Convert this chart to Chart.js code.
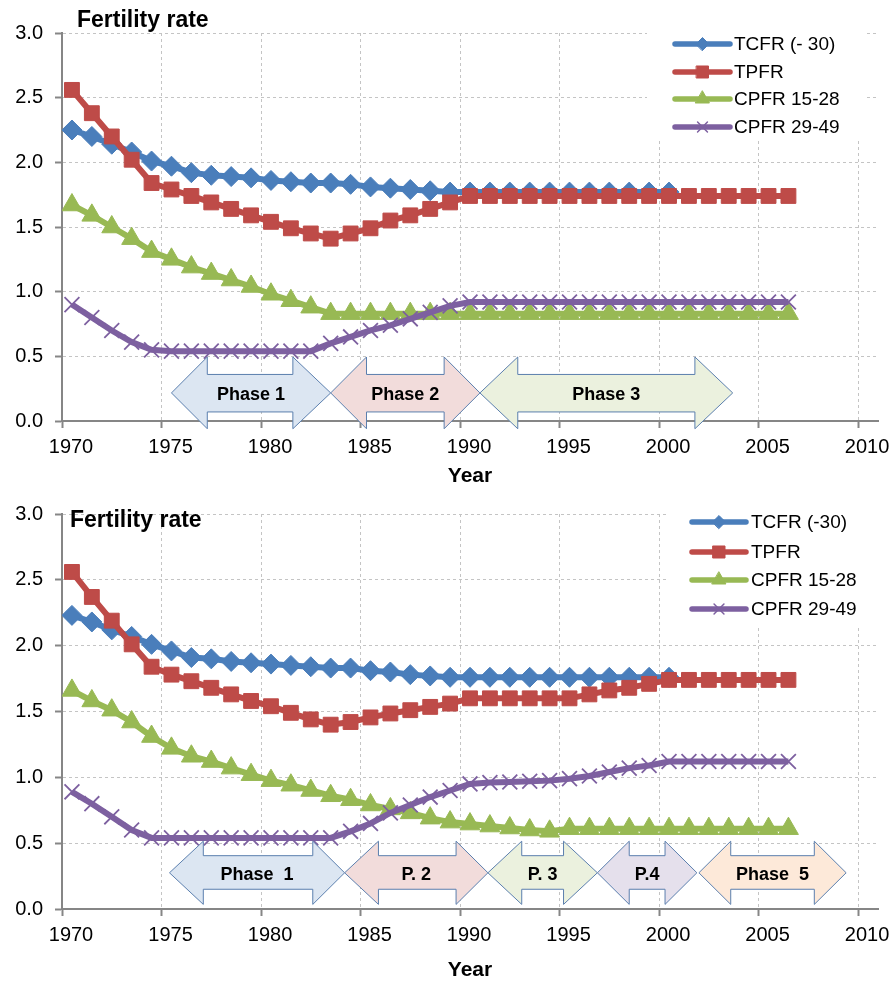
<!DOCTYPE html>
<html>
<head>
<meta charset="utf-8">
<script src="https://cdn.jsdelivr.net/npm/chart.js@4.4.0/dist/chart.umd.min.js"></script>
<style>
    html, body { margin: 0; padding: 0; background: #fff; }
    canvas { position: absolute; left: 0; }
    #top { top: 0; }
    #bottom { top: 490px; }
</style>
</head>
<body>
<canvas id="top" width="895" height="490" style="width:895px;height:490px"></canvas>
<canvas id="bottom" width="895" height="493" style="width:895px;height:493px"></canvas>
<script>
// mid-year points
const years = [1970.5, 1971.5, 1972.5, 1973.5, 1974.5, 1975.5, 1976.5, 1977.5, 1978.5, 1979.5,
    1980.5, 1981.5, 1982.5, 1983.5, 1984.5, 1985.5, 1986.5, 1987.5, 1988.5, 1989.5,
    1990.5, 1991.5, 1992.5, 1993.5, 1994.5, 1995.5, 1996.5, 1997.5, 1998.5, 1999.5,
    2000.5, 2001.5, 2002.5, 2003.5, 2004.5, 2005.5, 2006.5];

// upper panel
const tcfrTop = [2.25, 2.20, 2.14, 2.08, 2.01, 1.97, 1.92, 1.90, 1.89, 1.88,
    1.86, 1.85, 1.84, 1.84, 1.83, 1.81, 1.80, 1.79, 1.78, 1.77,
    1.77, 1.77, 1.77, 1.77, 1.77, 1.77, 1.77, 1.77, 1.77, 1.77, 1.77];
const tpfrTop = [2.56, 2.38, 2.20, 2.02, 1.84, 1.79, 1.74, 1.69, 1.64, 1.59,
    1.54, 1.49, 1.45, 1.41, 1.45, 1.49, 1.55, 1.59, 1.64, 1.69,
    1.74, 1.74, 1.74, 1.74, 1.74, 1.74, 1.74, 1.74, 1.74, 1.74,
    1.74, 1.74, 1.74, 1.74, 1.74, 1.74, 1.74];
const cpfrYoungTop = [1.67, 1.59, 1.50, 1.41, 1.31, 1.25, 1.19, 1.14, 1.09, 1.04,
    0.98, 0.93, 0.88, 0.83, 0.83, 0.83, 0.83, 0.83, 0.83, 0.83,
    0.83, 0.83, 0.83, 0.83, 0.83, 0.83, 0.83, 0.83, 0.83, 0.83,
    0.83, 0.83, 0.83, 0.83, 0.83, 0.83, 0.83];
const cpfrOldTop = [0.90, 0.80, 0.70, 0.61, 0.55, 0.54, 0.54, 0.54, 0.54, 0.54,
    0.54, 0.54, 0.54, 0.60, 0.65, 0.70, 0.74, 0.79, 0.84, 0.89,
    0.92, 0.92, 0.92, 0.92, 0.92, 0.92, 0.92, 0.92, 0.92, 0.92,
    0.92, 0.92, 0.92, 0.92, 0.92, 0.92, 0.92];
const namesTop = ["TCFR (- 30)", "TPFR", "CPFR 15-28", "CPFR 29-49"];
const phasesTop = [
    { label: "Phase 1", from: 1975.5, headL: 1977.3, headR: 1981.6, to: 1983.5, fill: "#dce6f2" },
    { label: "Phase 2", from: 1983.5, headL: 1985.3, headR: 1989.2, to: 1991.0, fill: "#f2dcdb" },
    { label: "Phase 3", from: 1991.0, headL: 1992.9, headR: 2001.8, to: 2003.7, fill: "#ebf1de" },
];

// lower panel
const tcfrBot = [2.23, 2.18, 2.12, 2.07, 2.01, 1.96, 1.91, 1.90, 1.88, 1.87,
    1.86, 1.85, 1.84, 1.83, 1.83, 1.81, 1.80, 1.78, 1.77, 1.76,
    1.76, 1.76, 1.76, 1.76, 1.76, 1.76, 1.76, 1.76, 1.76, 1.76, 1.76];
const tpfrBot = [2.56, 2.37, 2.19, 2.01, 1.84, 1.78, 1.73, 1.68, 1.63, 1.58,
    1.54, 1.49, 1.44, 1.40, 1.42, 1.455, 1.485, 1.51, 1.535, 1.56,
    1.60, 1.60, 1.60, 1.60, 1.60, 1.60, 1.63, 1.66, 1.68, 1.71,
    1.74, 1.74, 1.74, 1.74, 1.74, 1.74, 1.74];
const cpfrYoungBot = [1.66, 1.58, 1.51, 1.42, 1.31, 1.22, 1.16, 1.12, 1.07, 1.02,
    0.975, 0.94, 0.90, 0.86, 0.83, 0.79, 0.76, 0.73, 0.69, 0.66,
    0.645, 0.63, 0.615, 0.60, 0.59, 0.61, 0.61, 0.61, 0.61, 0.61,
    0.61, 0.61, 0.61, 0.61, 0.61, 0.61, 0.61];
const cpfrOldBot = [0.89, 0.80, 0.70, 0.60, 0.54, 0.54, 0.54, 0.54, 0.54, 0.54,
    0.54, 0.54, 0.54, 0.54, 0.59, 0.65, 0.73, 0.79, 0.85, 0.90,
    0.95, 0.96, 0.965, 0.97, 0.975, 0.99, 1.01, 1.04, 1.07, 1.09,
    1.12, 1.12, 1.12, 1.12, 1.12, 1.12, 1.12];
const namesBot = ["TCFR (-30)", "TPFR", "CPFR 15-28", "CPFR 29-49"];
const phasesBot = [
    { label: "Phase  1", from: 1975.4, headL: 1977.1, headR: 1982.6, to: 1984.2, fill: "#dce6f2" },
    { label: "P. 2", from: 1984.2, headL: 1985.9, headR: 1989.8, to: 1991.4, fill: "#f2dcdb" },
    { label: "P. 3", from: 1991.4, headL: 1993.1, headR: 1995.2, to: 1996.9, fill: "#ebf1de" },
    { label: "P.4", from: 1996.9, headL: 1998.5, headR: 2000.3, to: 2001.9, fill: "#e5e0ec" },
    { label: "Phase  5", from: 2002.0, headL: 2003.6, headR: 2007.8, to: 2009.4, fill: "#fde9d9" },
];

const FONT = "'Liberation Sans', Arial, sans-serif";
const styles = [
    { color: "#4a7ebb", point: "rectRot", r: 10, lr: 6.5 },
    { color: "#be4b48", point: "rect", r: 10.5, lr: 8.5 },
    { color: "#98b954", point: "triangle", r: 11.5, lr: 8 },
    { color: "#7d60a0", point: "crossRot", r: 10.5, lr: 7 },
];

function toPoints(vals) {
    return vals.map((v, i) => ({ x: years[i], y: v }));
}

function drawMarker(ctx, s, r, x, y) {
    ctx.save();
    ctx.fillStyle = s.color;
    ctx.strokeStyle = s.color;
    ctx.lineWidth = s.point === "crossRot" ? 1.5 : 1;
    Chart.helpers.drawPoint(ctx, { pointStyle: s.point, radius: r, rotation: 0, borderWidth: ctx.lineWidth }, x, y);
    ctx.restore();
}

function makeOverlay(o) {
    return {
        id: "overlay",
        beforeDatasetsDraw(chart) {
            const ctx = chart.ctx;
            ctx.save();
            ctx.fillStyle = "#fff";
            ctx.fillRect(o.box[0], o.box[1], o.box[2], o.box[3]);
            ctx.restore();
        },
        afterDatasetsDraw(chart) {
            const ctx = chart.ctx;
            const xs = chart.scales.x, ys = chart.scales.y;
            const g = o.arrowY;
            const yHT = ys.getPixelForValue(g[0]), yST = ys.getPixelForValue(g[1]);
            const yM = ys.getPixelForValue(g[2]);
            const ySB = ys.getPixelForValue(g[3]), yHB = ys.getPixelForValue(g[4]);
            o.phases.forEach((p) => {
                const x0 = xs.getPixelForValue(p.from), x1 = xs.getPixelForValue(p.headL);
                const x2 = xs.getPixelForValue(p.headR), x3 = xs.getPixelForValue(p.to);
                ctx.save();
                ctx.beginPath();
                ctx.moveTo(x0, yM);
                ctx.lineTo(x1, yHT);
                ctx.lineTo(x1, yST);
                ctx.lineTo(x2, yST);
                ctx.lineTo(x2, yHT);
                ctx.lineTo(x3, yM);
                ctx.lineTo(x2, yHB);
                ctx.lineTo(x2, ySB);
                ctx.lineTo(x1, ySB);
                ctx.lineTo(x1, yHB);
                ctx.closePath();
                ctx.fillStyle = p.fill;
                ctx.fill();
                ctx.strokeStyle = "#5b7fae";
                ctx.lineWidth = 1;
                ctx.stroke();
                ctx.fillStyle = "#000";
                ctx.font = "bold 18px " + FONT;
                ctx.textAlign = "center";
                ctx.textBaseline = "middle";
                ctx.fillText(p.label, (x0 + x3) / 2, yM + 2);
                ctx.restore();
            });
        },
        afterDraw(chart) {
            const ctx = chart.ctx;
            ctx.save();
            ctx.fillStyle = "#000";
            ctx.font = "bold 23px " + FONT;
            ctx.textAlign = "left";
            ctx.textBaseline = "alphabetic";
            ctx.fillText("Fertility rate", o.title[0], o.title[1]);
            o.names.forEach((name, i) => {
                const s = styles[i];
                const y = o.rows[i];
                ctx.strokeStyle = s.color;
                ctx.lineWidth = 5.5;
                ctx.lineCap = "round";
                ctx.beginPath();
                ctx.moveTo(o.line[0], y);
                ctx.lineTo(o.line[1], y);
                ctx.stroke();
                drawMarker(ctx, s, s.lr, (o.line[0] + o.line[1]) / 2, y);
                ctx.fillStyle = "#000";
                ctx.font = "19px " + FONT;
                ctx.textBaseline = "middle";
                ctx.fillText(name, o.textX, y + 1);
            });
            ctx.restore();
        },
    };
}

function buildChart(id, series, o) {
    const datasets = series.map((vals, i) => {
        const s = styles[i];
        return {
            label: o.names[i],
            data: toPoints(vals),
            borderColor: s.color,
            backgroundColor: s.color,
            borderWidth: 6,
            pointStyle: s.point,
            pointRadius: s.r,
            pointBackgroundColor: s.color,
            pointBorderColor: s.color,
            pointBorderWidth: s.point === "crossRot" ? 1.8 : 1,
            tension: 0,
            order: 4 - i,
        };
    });
    return new Chart(document.getElementById(id), {
        type: "line",
        data: { datasets: datasets },
        options: {
            responsive: false,
            animation: false,
            layout: { padding: { left: 0, right: 17, top: o.padTop, bottom: 0 } },
            plugins: { legend: { display: false }, tooltip: { enabled: false } },
            scales: {
                x: {
                    type: "linear",
                    min: 1970,
                    max: 2011,
                    afterBuildTicks: (s) => {
                        s.ticks = [1970, 1975, 1980, 1985, 1990, 1995, 2000, 2005, 2010].map((v) => ({ value: v }));
                    },
                    afterFit: (s) => { s.height = o.xHeight; },
                    ticks: {
                        callback: (v) => String(v),
                        color: "#000",
                        font: { family: FONT, size: 20 },
                        padding: 7,
                        labelOffset: 9,
                        maxRotation: 0,
                        autoSkip: false,
                    },
                    grid: { color: "#c4c4c4", tickColor: "#868686", tickLength: 7, tickWidth: 2 },
                    border: { color: "#868686", width: 2, dash: [3, 3] },
                    title: {
                        display: true,
                        text: "Year",
                        color: "#000",
                        font: { family: FONT, size: 21, weight: "bold" },
                        padding: { top: 0, bottom: o.yearPad },
                    },
                },
                y: {
                    min: 0,
                    max: 3,
                    afterFit: (s) => { s.width = 62; },
                    ticks: {
                        stepSize: 0.5,
                        callback: (v) => v.toFixed(1),
                        color: "#000",
                        font: { family: FONT, size: 20 },
                        padding: 12,
                    },
                    grid: { color: "#c4c4c4", tickColor: "#868686", tickLength: 7, tickWidth: 2 },
                    border: { color: "#868686", width: 2, dash: [3, 3] },
                },
            },
        },
        plugins: [makeOverlay(o)],
    });
}

buildChart("top", [tcfrTop, tpfrTop, cpfrYoungTop, cpfrOldTop], {
    names: namesTop,
    phases: phasesTop,
    arrowY: [0.495, 0.36, 0.217, 0.07, -0.06],
    padTop: 33,
    xHeight: 69,
    yearPad: 1,
    box: [647, 30, 220, 111],
    title: [77, 27],
    rows: [44, 72, 99, 127],
    line: [675, 730],
    textX: 734,
});

buildChart("bottom", [tcfrBot, tpfrBot, cpfrYoungBot, cpfrOldBot], {
    names: namesBot,
    phases: phasesBot,
    arrowY: [0.515, 0.405, 0.275, 0.15, 0.035],
    padTop: 17,
    xHeight: 74,
    yearPad: 0,
    box: [668, 19, 212, 116],
    title: [70, 37],
    rows: [32, 62, 90, 119],
    line: [692, 746],
    textX: 751,
});
</script>
</body>
</html>
